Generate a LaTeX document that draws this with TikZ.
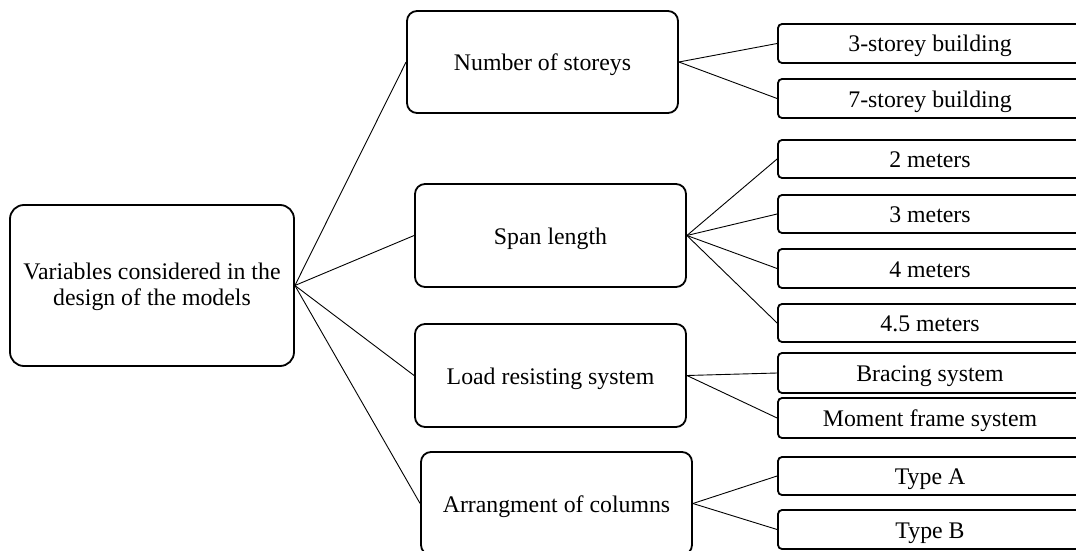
\documentclass[tikz,border=0pt]{standalone}
\usepackage{fontspec}
\setmainfont{Liberation Serif}
\begin{document}
\begin{tikzpicture}[x=1pt,y=-1pt,
  base/.style={draw=black,line width=1.8pt,fill=white,inner sep=0pt,align=center,font=\fontsize{23.8}{26}\selectfont},
  onelin/.style={text height=21pt,text depth=4pt},
  rootbox/.style={base,rounded corners=14pt,minimum width=284pt,minimum height=161pt},
  midbox/.style={base,onelin,rounded corners=10pt,minimum width=271pt,minimum height=103pt},
  leafbox/.style={base,onelin,rounded corners=4pt,minimum width=304pt,minimum height=39pt},
  link/.style={draw=black,line width=0.9pt}]
\useasboundingbox (0,0) rectangle (1076,551);
\node[rootbox] (root) at (152,285.5) {\rule{0pt}{20pt}Variables considered in the\\design of the models};
\node[midbox,minimum height=102pt] (num) at (542.5,62) {Number of storeys};
\node[midbox] (span) at (550.5,235.5) {Span length};
\node[midbox] (load) at (550.5,375.5) {Load resisting system};
\node[midbox] (arr) at (556.5,503.5) {Arrangment of columns};
\node[leafbox] (s3) at (930,43.5) {3-storey building};
\node[leafbox] (s7) at (930,98.5) {7-storey building};
\node[leafbox,minimum height=38pt] (m2) at (930,159) {2 meters};
\node[leafbox,minimum height=38pt] (m3) at (930,214) {3 meters};
\node[leafbox] (m4) at (930,268.5) {4 meters};
\node[leafbox,minimum height=38pt] (m45) at (930,323) {4.5 meters};
\node[leafbox,minimum height=40pt] (br) at (930,373) {Bracing system};
\node[leafbox,minimum height=40pt] (mf) at (930,418) {Moment frame system};
\node[leafbox,minimum height=38pt] (ta) at (930,476) {Type A};
\node[leafbox] (tb) at (930,529.5) {Type B};
\draw[link] (root.east) -- (num.west);
\draw[link] (root.east) -- (span.west);
\draw[link] (root.east) -- (load.west);
\draw[link] (root.east) -- (arr.west);
\draw[link] (num.east) -- (s3.west);
\draw[link] (num.east) -- (s7.west);
\draw[link] (span.east) -- (m2.west);
\draw[link] (span.east) -- (m3.west);
\draw[link] (span.east) -- (m4.west);
\draw[link] (span.east) -- (m45.west);
\draw[link] (load.east) -- (br.west);
\draw[link] (load.east) -- (mf.west);
\draw[link] (arr.east) -- (ta.west);
\draw[link] (arr.east) -- (tb.west);
\end{tikzpicture}
\end{document}
